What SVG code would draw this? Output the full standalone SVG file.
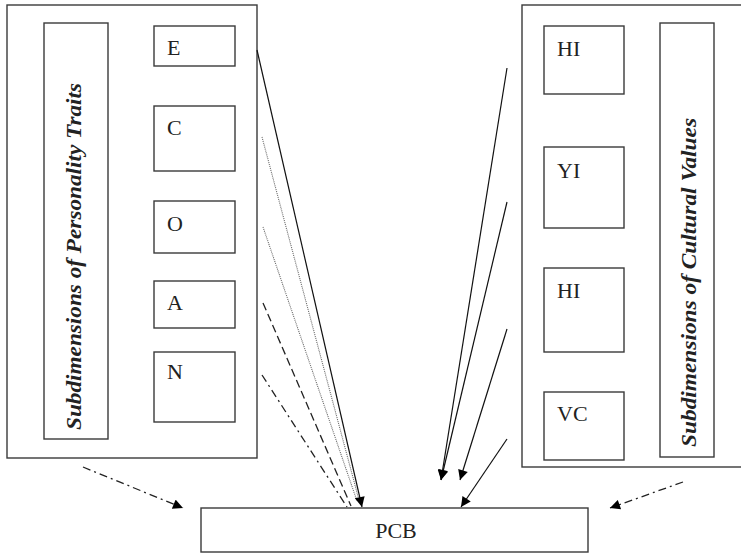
<svg xmlns="http://www.w3.org/2000/svg" width="741" height="553" viewBox="0 0 741 553">
  <defs>
    <marker id="arrow" viewBox="0 0 10 10" refX="10" refY="5" markerWidth="12" markerHeight="10" markerUnits="userSpaceOnUse" orient="auto">
      <path d="M0,0 L10,5 L0,10 Z" fill="#000"/>
    </marker>
    <style>
      .box { fill: #fff; stroke: #3a3a3a; stroke-width: 1.4; }
      .lbl { font-family: "Liberation Serif", "Times New Roman", serif; font-size: 22px; fill: #222; }
      .vlbl { font-family: "Liberation Serif", "Times New Roman", serif; font-size: 22px; font-style: italic; font-weight: bold; fill: #222; text-anchor: middle; }
      .ln { fill: none; stroke: #111; stroke-width: 1.2; }
      .dot { fill: none; stroke: #666; stroke-width: 1.1; stroke-dasharray: 1 1; }
      .dash { fill: none; stroke: #222; stroke-width: 1.3; stroke-dasharray: 8 4; }
      .dashdot { fill: none; stroke: #222; stroke-width: 1.3; stroke-dasharray: 8 4 2 4; }
    </style>
  </defs>

  <!-- personality group -->
  <g id="personality">
    <rect class="box" x="7" y="5" width="250" height="453"/>
    <rect class="box" x="44" y="23" width="64" height="416"/>
    <text class="vlbl" transform="translate(81,256.5) rotate(-90)" textLength="347" lengthAdjust="spacingAndGlyphs">Subdimensions of Personality Traits</text>
  </g>
  <g id="E">
    <rect class="box" x="154" y="26" width="81" height="40"/>
    <text class="lbl" x="167" y="55">E</text>
  </g>
  <g id="C">
    <rect class="box" x="154" y="106" width="81" height="65"/>
    <text class="lbl" x="167" y="135">C</text>
  </g>
  <g id="O">
    <rect class="box" x="154" y="201" width="81" height="52"/>
    <text class="lbl" x="167" y="231">O</text>
  </g>
  <g id="A">
    <rect class="box" x="154" y="281" width="81" height="47"/>
    <text class="lbl" x="167" y="310">A</text>
  </g>
  <g id="N">
    <rect class="box" x="154" y="352" width="81" height="70"/>
    <text class="lbl" x="167" y="379">N</text>
  </g>

  <!-- cultural values group -->
  <g id="cultural">
    <rect class="box" x="522" y="5" width="230" height="462"/>
    <rect class="box" x="660" y="23" width="54" height="434"/>
    <text class="vlbl" transform="translate(696,282.5) rotate(-90)" textLength="329" lengthAdjust="spacingAndGlyphs">Subdimensions of Cultural Values</text>
  </g>
  <g id="HI1">
    <rect class="box" x="544" y="26" width="80" height="68"/>
    <text class="lbl" x="557" y="56">HI</text>
  </g>
  <g id="YI">
    <rect class="box" x="544" y="147" width="80" height="81"/>
    <text class="lbl" x="557" y="178">YI</text>
  </g>
  <g id="HI2">
    <rect class="box" x="544" y="268" width="80" height="84"/>
    <text class="lbl" x="557" y="298">HI</text>
  </g>
  <g id="VC">
    <rect class="box" x="544" y="392" width="80" height="68"/>
    <text class="lbl" x="557" y="421">VC</text>
  </g>

  <g id="PCB">
    <rect class="box" x="201" y="508" width="387" height="44"/>
    <text class="lbl" x="396" y="538" text-anchor="middle">PCB</text>
  </g>

  <!-- connectors -->
  <g id="connectors">
    <line class="dot" x1="262" y1="137" x2="359" y2="500"/>
    <line class="dot" x1="263" y1="227" x2="357" y2="501"/>
    <line class="dash" x1="263" y1="303" x2="351" y2="506"/>
    <line class="dashdot" x1="262" y1="375" x2="347" y2="507"/>
    <line class="ln" x1="257" y1="50" x2="362" y2="507" marker-end="url(#arrow)"/>

    <line class="ln" x1="507" y1="68" x2="441" y2="480" marker-end="url(#arrow)"/>
    <line class="ln" x1="507" y1="202" x2="441" y2="480" marker-end="url(#arrow)"/>
    <line class="ln" x1="507" y1="329" x2="460" y2="480" marker-end="url(#arrow)"/>
    <line class="ln" x1="507" y1="439" x2="461" y2="507" marker-end="url(#arrow)"/>

    <line class="dashdot" x1="83" y1="467" x2="183" y2="508" marker-end="url(#arrow)"/>
    <line class="dashdot" x1="683" y1="482" x2="610" y2="508" marker-end="url(#arrow)"/>
  </g>
</svg>
